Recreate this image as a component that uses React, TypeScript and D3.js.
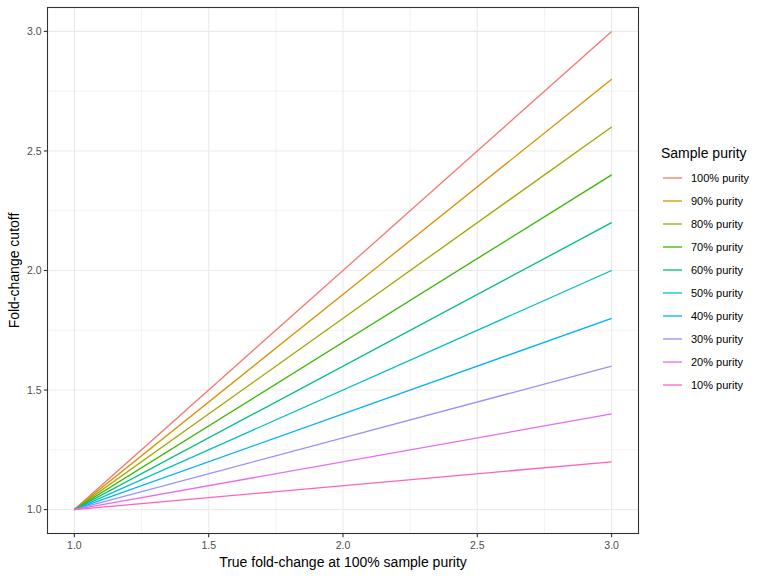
import React from "react";
import * as d3 from "d3";

const purities = [1.0, 0.9, 0.8, 0.7, 0.6, 0.5, 0.4, 0.3, 0.2, 0.1];
const labels = ["100% purity", "90% purity", "80% purity", "70% purity", "60% purity", "50% purity", "40% purity", "30% purity", "20% purity", "10% purity"];
const colors = ["#F8766D", "#D89000", "#A3A500", "#39B600", "#00BF7D", "#00BFC4", "#00B0F6", "#9590FF", "#E76BF3", "#FF62BC"];
const xDomain = [1, 3];
const xTicks = [1.0, 1.5, 2.0, 2.5, 3.0];
const yTicks = [1.0, 1.5, 2.0, 2.5, 3.0];
const xMinor = [1.25, 1.75, 2.25, 2.75];
const yMinor = [1.25, 1.75, 2.25, 2.75];

export default function App() {
  const W = 768, H = 576;
  const pL = 47.5, pR = 638.5, pT = 7.5, pB = 533.5;
  const x = d3.scaleLinear().domain([0.9, 3.1]).range([pL, pR]);
  const y = d3.scaleLinear().domain([0.9, 3.1]).range([pB, pT]);
  const line = d3.line<[number, number]>().x(d => x(d[0])).y(d => y(d[1]));
  const font = "Liberation Sans, Arial, Helvetica, sans-serif";
  return (
    <svg width={W} height={H} style={{ position: "absolute", left: 0, top: 0 }} fontFamily={font}>
      <rect width={W} height={H} fill="white" />
      {xMinor.map(v => <line key={"xm" + v} x1={x(v)} x2={x(v)} y1={pT} y2={pB} stroke="#EBEBEB" strokeWidth={0.6} />)}
      {yMinor.map(v => <line key={"ym" + v} y1={y(v)} y2={y(v)} x1={pL} x2={pR} stroke="#EBEBEB" strokeWidth={0.6} />)}
      {xTicks.map(v => <line key={"xg" + v} x1={x(v)} x2={x(v)} y1={pT} y2={pB} stroke="#EBEBEB" strokeWidth={1.1} />)}
      {yTicks.map(v => <line key={"yg" + v} y1={y(v)} y2={y(v)} x1={pL} x2={pR} stroke="#EBEBEB" strokeWidth={1.1} />)}
      {purities.map((p, i) => (
        <path key={i} d={line([[xDomain[0], 1], [xDomain[1], 1 + p * (xDomain[1] - xDomain[0])]]) || ""} fill="none" stroke={colors[i]} strokeWidth={1.3} />
      ))}
      <rect x={pL} y={pT} width={pR - pL} height={pB - pT} fill="none" stroke="#333333" strokeWidth={1.1} />
      {xTicks.map(v => (
        <g key={"xt" + v}>
          <line x1={x(v)} x2={x(v)} y1={pB} y2={pB + 3.7} stroke="#333333" strokeWidth={1.1} />
          <text x={x(v)} y={pB + 15} textAnchor="middle" fontSize={10.5} fill="#4D4D4D">{v.toFixed(1)}</text>
        </g>
      ))}
      {yTicks.map(v => (
        <g key={"yt" + v}>
          <line x1={pL - 3.7} x2={pL} y1={y(v)} y2={y(v)} stroke="#333333" strokeWidth={1.1} />
          <text x={pL - 6} y={y(v) + 3.7} textAnchor="end" fontSize={10.5} fill="#4D4D4D">{v.toFixed(1)}</text>
        </g>
      ))}
      <text x={(pL + pR) / 2} y={567} textAnchor="middle" fontSize={14} fill="black">True fold-change at 100% sample purity</text>
      <text transform={`translate(19, ${(pT + pB) / 2}) rotate(-90)`} textAnchor="middle" fontSize={14} fill="black">Fold-change cutoff</text>
      <text x={661} y={158} fontSize={14} fill="black">Sample purity</text>
      {labels.map((l, i) => (
        <g key={"lg" + i}>
          <line x1={663} x2={682} y1={178 + i * 23} y2={178 + i * 23} stroke={colors[i]} strokeWidth={1.3} />
          <text x={691} y={178 + i * 23 + 4} fontSize={11} fill="black">{l}</text>
        </g>
      ))}
    </svg>
  );
}
